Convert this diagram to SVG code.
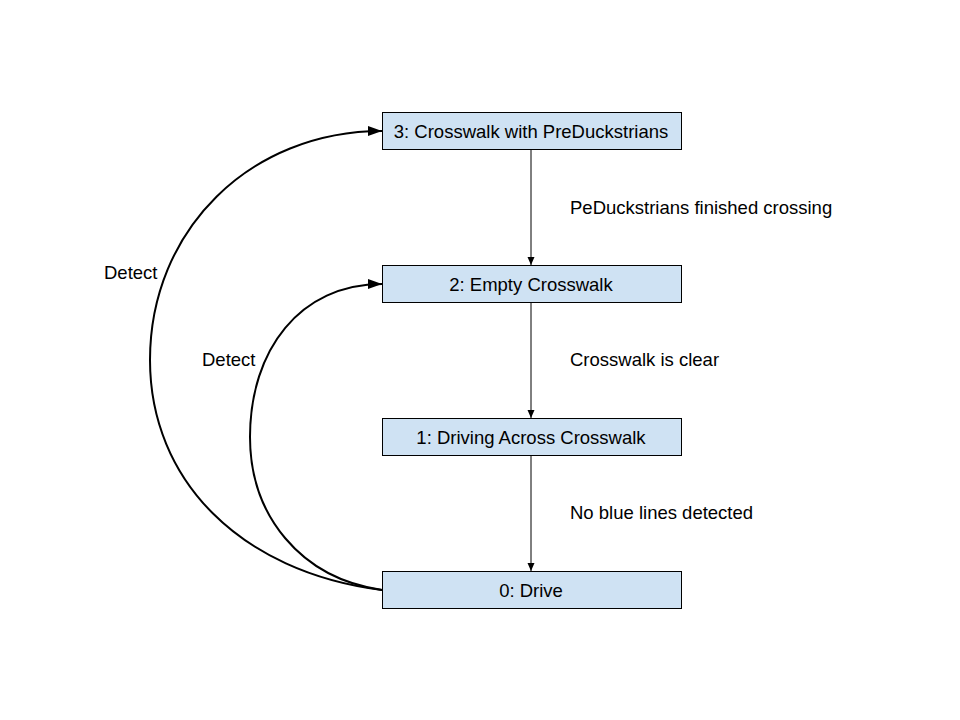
<svg xmlns="http://www.w3.org/2000/svg" width="960" height="720" viewBox="0 0 960 720">
<style>
.node rect{fill:#cfe2f3;stroke:#000;stroke-width:1}
text{font-family:"Liberation Sans",Arial,sans-serif;font-size:18.5px;fill:#000}
.node text{text-anchor:middle}
.thin{stroke:#000;stroke-width:1;fill:none;marker-end:url(#as)}
.thick{stroke:#000;stroke-width:2;fill:none;marker-end:url(#al)}
</style>
<defs>
<marker id="as" markerWidth="8" markerHeight="10" refX="8" refY="5" orient="auto" markerUnits="userSpaceOnUse" viewBox="0 0 8 10"><path d="M0,1.5 L8,5 L0,8.5z" fill="#000"/></marker>
<marker id="al" markerWidth="14" markerHeight="12" refX="14" refY="6" orient="auto" markerUnits="userSpaceOnUse" viewBox="0 0 14 12"><path d="M0,1 L14,6 L0,11z" fill="#000"/></marker>
</defs>
<rect width="960" height="720" fill="#fff"/>
<g id="connectors">
<path class="thin" d="M531,149 V265"/>
<path class="thin" d="M531,302 V418"/>
<path class="thin" d="M531,455 V571"/>
<path class="thick" d="M382,590 C240,572 150,480 150,360 C150,230 250,131 382,131"/>
<path class="thick" d="M382,590 C300,578 250,515 250,437 C250,350 300,284 382,284"/>
<text x="570" y="214">PeDuckstrians finished crossing</text>
<text x="570" y="366">Crosswalk is clear</text>
<text x="570" y="519">No blue lines detected</text>
<text x="104" y="279">Detect</text>
<text x="202" y="366">Detect</text>
</g>
<g id="n3" class="node"><rect x="382.5" y="112.5" width="299" height="37"/><text x="531" y="137.5">3: Crosswalk with PreDuckstrians</text></g>
<g id="n2" class="node"><rect x="382.5" y="265.5" width="299" height="37"/><text x="531" y="290.5">2: Empty Crosswalk</text></g>
<g id="n1" class="node"><rect x="382.5" y="418.5" width="299" height="37"/><text x="531" y="443.5">1: Driving Across Crosswalk</text></g>
<g id="n0" class="node"><rect x="382.5" y="571.5" width="299" height="37"/><text x="531" y="596.5">0: Drive</text></g>
</svg>
